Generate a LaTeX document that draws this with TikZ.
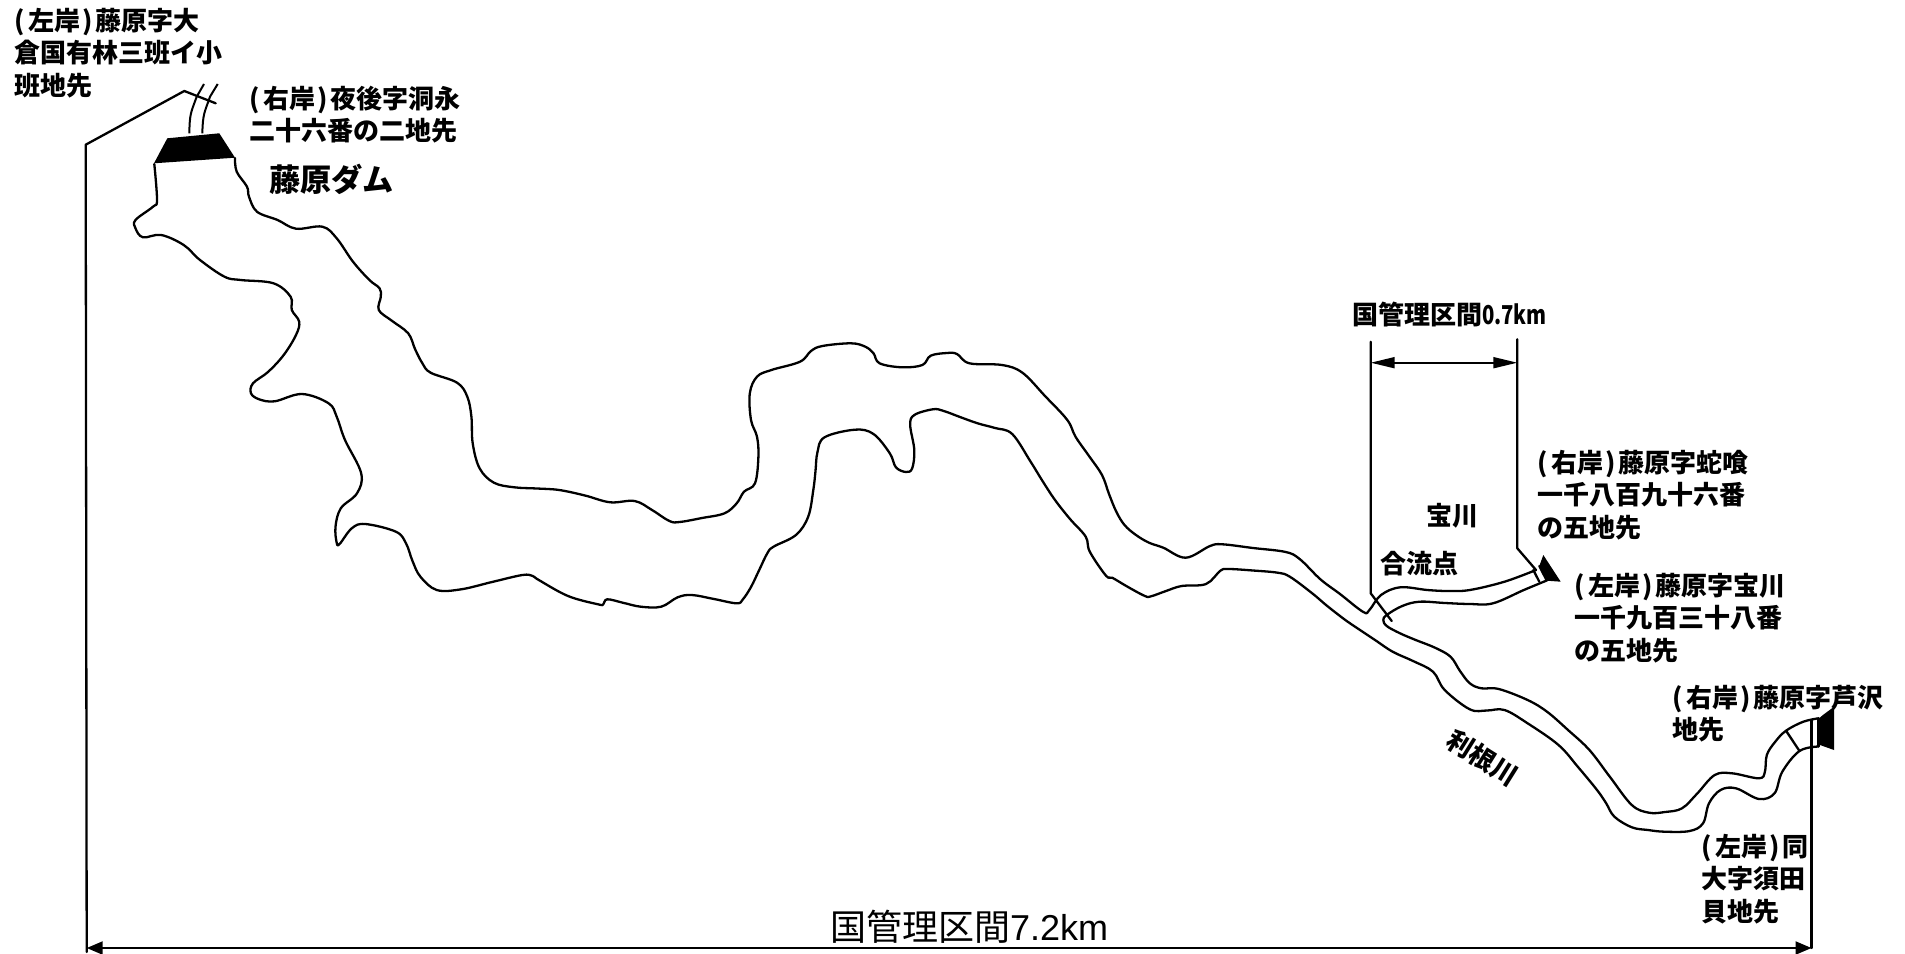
\documentclass[tikz,border=0pt]{standalone}
\usepackage{fontspec}
\usepackage{graphicx}
\usetikzlibrary{arrows.meta}
\newfontfamily\jpfont{Noto Sans CJK JP}
\newfontfamily\latinfont{Liberation Sans}
\newcommand{\lpar}{(\hspace{0.16em}}
\newcommand{\rpar}{\hspace{0.09em})\hspace{0.09em}}
\tikzset{
  river/.style={line width=1.15pt,line join=round,line cap=round},
  thin line/.style={line width=1pt},
  label text/.style={inner sep=0pt,outer sep=0pt,align=left,anchor=west,font=\jpfont\bfseries\fontsize{13pt}{16.1pt}\selectfont},
  dim big/.style={line width=1.1pt,{Triangle[length=8pt,width=6.5pt]}-{Triangle[length=8pt,width=6.5pt]}},
  dim small/.style={line width=0.9pt,{Triangle[length=12pt,width=5.5pt]}-{Triangle[length=12pt,width=5.5pt]}},
}
\begin{document}
\begin{tikzpicture}[x=0.5pt,y=-0.5pt]
\useasboundingbox (0,0) rectangle (1905,953);
% named reference points
\coordinate (kL) at (86.7,948);
\coordinate (kR) at (1811.5,948);
\coordinate (tL) at (1370.7,362.7);
\coordinate (tR) at (1517.3,362.7);

% main river, outer bank
\draw[river] plot[smooth,tension=0.6] coordinates {
(235,158) (236.7,171.7) (247,186.7) (249,196.7) (257,211.7) (277.6,220) (296,228.7) (322.4,226.7) (336.7,238.3) (353,261.7)
(369.4,280) (379.6,288.3) (380.8,296.7) (378.8,310) (391.8,320.7) (408.2,333.3) (415,349) (422.4,363.3) (430.6,372.7) (457.1,382.7) (467.3,396.7)
(471.4,416.7) (472.7,443.3) (479.6,468.3) (493.9,482.7) (514.3,487.3) (537,488.5) (559.2,490) (585,495.5) (610.2,502.3) (634.7,501) (652,510) (669.4,521) (679.6,522)
(702,518) (724.5,513.3) (736.7,503.3) (744,491.7) (755,483.3) (758.4,456.7) (757,436.7) (751,420) (749.8,393.3) (757,376.7) (771.4,370)
(800,361.7) (811,351) (822.4,346) (851,343.3) (865.3,346.7) (873.5,353.3) (879.6,363.3) (902,367.3) (922.4,365) (930.6,355.7)
(947,353) (957,354) (969.4,363.3) (1002,365) (1022.4,372.7) (1045,396) (1067.3,420) (1075.5,436.7) (1089,456) (1102,475) (1109,494) (1116.3,511.7) (1124.5,525)
(1136,535) (1149,542.7) (1163.3,547.7) (1185.7,557.7) (1210,546) (1222.4,544.3) (1253,548) (1285.7,552) (1300,559.3) (1320.4,579.3) (1340,594)
(1363.3,612) (1369.4,610) (1381,595) (1400.3,587.3) (1427.3,590) (1448,591) (1469.8,590) (1504.5,581.7) (1536,570)};
% main river, inner bank from dam down to the fork
\draw[river] plot[smooth,tension=0.6] coordinates {
(154.3,164) (157,200) (153,206.7) (135.5,220) (135.5,228.3) (142.9,237.3) (161.2,235) (183.7,245) (200,260) (224.5,276.7)
(240.8,280) (273.5,283.3) (290.6,296.7) (291.8,310) (299.2,321.7) (296,335) (283.7,355) (268,372) (253,383.3) (251,393.3) (259.2,399.3)
(274.7,401.3) (302,394) (328.6,403.3) (336.7,416.7) (345,440) (361.2,473.3) (357,493.3) (340.8,508.3) (335.5,526.7) (336.7,542.7) (339.6,544)
(351.8,528.3) (365.3,524) (395.9,531.7) (406,543.3) (412.5,561) (420.4,576.7) (436.7,590) (461.2,589.3) (492,582) (522.4,575) (532.7,576) (538.8,580)
(568,596) (598,604.3) (603.3,604.3) (607.3,599.3) (624,603) (640.8,606.7) (661.2,606.7) (677.6,597.3) (691.8,595) (714,599) (736.7,603.3) (742.9,599.3) (751,587) (759.2,570)
(767.3,553.3) (773.5,546.7) (795.9,535) (808.2,516.7) (813.3,490) (815.5,471) (817.4,452.5) (824.5,437.3) (855,429.7) (873.5,434) (889.8,453.3)
(895.9,467.3) (906,472) (912.2,468.3) (914.3,450) (910.2,425) (914.3,415) (932.7,409.3) (942.9,410.7) (960,417) (977.6,423.3) (995,428) (1012.2,434)
(1030.6,461.7) (1042.5,481) (1055,500) (1070,519) (1085.7,536.7) (1089.8,551.7) (1106,575.7) (1112.2,577.7) (1128,587) (1144.9,596) (1151,596.3) (1166,591) (1181.6,586) (1206,584)
(1220.4,570.7) (1228.6,569) (1253,570.5) (1277.6,572.7) (1289.8,576.7) (1312.2,593.3) (1326,605) (1340,616) (1350,623.3) (1375,640) (1392.6,651.7) (1413,661) (1433,671.7)
(1444.7,690) (1469.8,709.3) (1487,710.5) (1504.5,710) (1527.6,723.3) (1558.5,745) (1578,767) (1597,790) (1606,803) (1614.4,816.7) (1631.8,827.3) (1648,830) (1664.6,831.7) (1689.7,831)
(1703,823.3) (1709,803.3) (1720.5,790) (1736,788.3) (1759,799) (1774.5,793.3) (1782.3,771.7) (1799.5,751) (1818.5,746.5)};
% tributary lower bank and right reach of the main river
\draw[river] plot[smooth,tension=0.6] coordinates {
(1546.7,580.5) (1523.8,590) (1493,603.3) (1469.8,604) (1445,603) (1419.6,601.7) (1402.2,606) (1386.7,615) (1383.3,620) (1386.7,626) (1400,633.3)
(1415.7,640) (1435,647.7) (1450.5,656.7) (1460,671) (1469.8,683.3) (1481.3,688.3) (1498.7,689) (1527.6,700) (1547,711.7) (1568,730) (1589.4,750) (1610,777) (1631.8,805) (1649,812.7)
(1665,812) (1682,808.3) (1697.4,793.3) (1714.7,775) (1732,773.3) (1759,778.3) (1764.9,771.7) (1766.8,755) (1775,742) (1786,730.7) (1803.3,721.7) (1818.5,718.3)};

% Fujiwara dam
\fill (167.3,138.3) -- (219.3,133.3) -- (235,157.7) -- (154,163.3) -- cycle;
\draw[thin line] (189.3,133.3) .. controls (189.8,113) and (190.7,113.3) .. (196.7,96.7) -- (204,84);
\draw[thin line] (202.3,133.3) .. controls (203,113) and (204.3,113.3) .. (210,96.7) -- (217.7,84);
% boundary lines
\draw[river] (kL |- 0,952) -- (85.7,144.7) -- (184.3,91) -- (215.7,103.3);
\draw[river] (kR |- 0,720) -- (kR);
\draw[dim big] (kL) -- (kR);

% Takara river section
\draw[river] (1370.7,341.7) -- (1370.7,593.3) -- (1391.7,621);
\draw[river] (1517.3,339.3) -- (1517.3,548.3) -- (1536,570);
\draw[dim small] (tL) -- (tR);
\draw[river] (1533.3,570) -- (1539.3,581.7) ;
\draw[river] (1539.3,566) -- (1546.7,580.5);
\fill (1543.3,555) -- (1560.7,581.7) -- (1546.7,580.7) -- (1539.3,566) -- cycle;

% downstream end
\draw[river] (1786,730.7) -- (1799.5,751);
\draw[river] (1818.5,718.3) -- (1818.5,746.5);
\fill (1819,718.3) .. controls (1825,713) and (1830,710) .. (1834,706.7) -- (1834,750) -- (1820,745) -- cycle;

% labels
\node[label text] (l1) at (14,53) {\lpar 左岸\rpar 藤原字大\\倉国有林三班イ小\\班地先};
\node[label text] (l2) at (249,114.5) {\lpar 右岸\rpar 夜後字洞永\\二十六番の二地先};
\node[label text,font=\jpfont\bfseries\fontsize{15.6pt}{18pt}\selectfont] (dam) at (269,179) {藤原ダム};
\node[label text] (q2) at (1352,315) {国管理区間\scalebox{0.78}[1]{0.7km}};
\node[label text] (l3) at (1537,495) {\lpar 右岸\rpar 藤原字蛇喰\\一千八百九十六番\\の五地先};
\node[label text] (tak) at (1426,516) {宝川};
\node[label text] (gou) at (1380,564) {合流点};
\node[label text] (l4) at (1574,618) {\lpar 左岸\rpar 藤原字宝川\\一千九百三十八番\\の五地先};
\node[label text] (l5) at (1672,714) {\lpar 右岸\rpar 藤原字芦沢\\地先};
\node[label text] (l6) at (1701,879) {\lpar 左岸\rpar 同\\大字須田\\貝地先};
\node[label text,anchor=center,rotate=-32] (ton) at (1483,758) {利根川};
\node[label text,font=\jpfont\fontsize{18pt}{20pt}\selectfont] (q1) at (830,926.5) {国管理区間{\latinfont 7.2km}};
\end{tikzpicture}
\end{document}
